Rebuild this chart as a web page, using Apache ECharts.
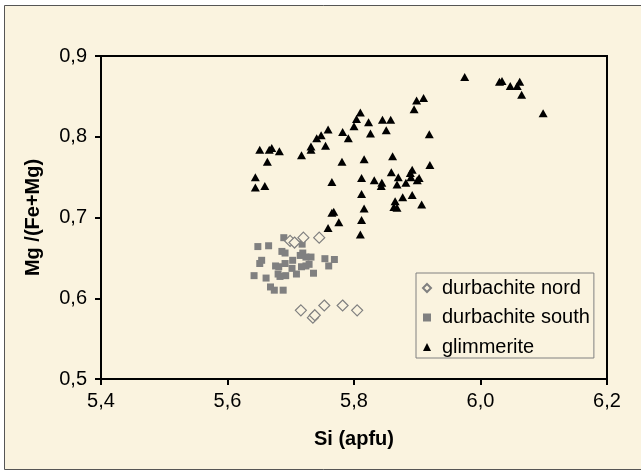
<!DOCTYPE html>
<html>
<head>
<meta charset="utf-8">
<script src="https://cdn.jsdelivr.net/npm/echarts@6/dist/echarts.min.js"></script>
<style>
  html, body { margin: 0; padding: 0; background: #fff; }
  #chart { width: 641px; height: 475px; }
</style>
</head>
<body>
<div id="chart"></div>
<script>
// Si (apfu) / Mg/(Fe+Mg) pairs
const nordSi = [5.699, 5.706, 5.720, 5.745, 5.716, 5.735, 5.738, 5.753, 5.782, 5.805];
const nordMg = [0.671, 0.669, 0.675, 0.675, 0.585, 0.576, 0.579, 0.591, 0.591, 0.585];

const southSi = [5.689, 5.648, 5.665, 5.718, 5.686, 5.691, 5.654, 5.651, 5.676, 5.681,
    5.691, 5.703, 5.702, 5.715, 5.719, 5.724, 5.732, 5.717, 5.724, 5.729,
    5.754, 5.769, 5.760, 5.736, 5.709, 5.642, 5.661, 5.680, 5.683, 5.692,
    5.668, 5.674, 5.688];
const southMg = [0.675, 0.664, 0.665, 0.667, 0.658, 0.656, 0.647, 0.643, 0.640, 0.639,
    0.643, 0.647, 0.637, 0.653, 0.656, 0.651, 0.651, 0.639, 0.640, 0.642,
    0.649, 0.648, 0.640, 0.631, 0.630, 0.628, 0.625, 0.630, 0.627, 0.628,
    0.614, 0.610, 0.610];

const glimSi = [5.651, 5.666, 5.670, 5.682, 5.663, 5.644, 5.644, 5.659, 5.717, 5.732,
    5.732, 5.741, 5.748, 5.755, 5.759, 5.781, 5.782, 5.791, 5.765, 5.765,
    5.768, 5.776, 5.759, 5.800, 5.804, 5.810, 5.823, 5.826, 5.816, 5.812,
    5.812, 5.816, 5.812, 5.810, 5.845, 5.858, 5.851, 5.832, 5.844, 5.843,
    5.861, 5.859, 5.870, 5.868, 5.882, 5.889, 5.892, 5.890, 5.903, 5.900,
    5.865, 5.863, 5.868, 5.877, 5.892, 5.907, 5.920, 5.919, 5.899, 5.910,
    5.895, 5.975, 6.030, 6.034, 6.047, 6.058, 6.062, 6.065, 6.099];
const glimMg = [0.784, 0.784, 0.786, 0.782, 0.769, 0.750, 0.737, 0.739, 0.777, 0.788,
    0.784, 0.798, 0.802, 0.789, 0.809, 0.769, 0.806, 0.798, 0.744, 0.706,
    0.707, 0.694, 0.687, 0.813, 0.822, 0.830, 0.818, 0.804, 0.772, 0.749,
    0.729, 0.711, 0.697, 0.679, 0.821, 0.821, 0.808, 0.746, 0.743, 0.739,
    0.776, 0.756, 0.750, 0.741, 0.743, 0.755, 0.759, 0.750, 0.749, 0.746,
    0.720, 0.713, 0.712, 0.725, 0.728, 0.716, 0.765, 0.803, 0.845, 0.848,
    0.834, 0.874, 0.868, 0.869, 0.863, 0.863, 0.868, 0.852, 0.829];

const xTicks = { min: 5.4, max: 6.2, step: 0.2 };
const yTicks = { min: 0.5, max: 0.9, step: 0.1 };

const cream = '#faf3df';
const font = '"Liberation Sans", Arial, sans-serif';

function pairs(xs, ys) {
    return xs.map((x, i) => [x, ys[i]]);
}

const commaFmt = v => v.toFixed(1).replace('.', ',');

const chart = echarts.init(document.getElementById('chart'));

chart.setOption({
    animation: false,
    backgroundColor: '#fff',
    textStyle: { fontFamily: font },
    graphic: [{
        type: 'rect',
        z: -10,
        shape: { x: 4.5, y: 5.5, width: 700, height: 464 },
        style: { fill: cream, stroke: '#555', lineWidth: 1 }
    }],
    grid: {
        left: 101, top: 56, right: 34, bottom: 96,
        show: true,
        borderColor: '#000',
        borderWidth: 2,
        backgroundColor: 'transparent'
    },
    legend: {
        orient: 'vertical',
        left: 416,
        top: 273,
        padding: [5, 4, 1, 6],
        itemWidth: 8,
        itemHeight: 8,
        itemGap: 9.5,
        borderColor: '#808080',
        borderWidth: 1,
        backgroundColor: cream,
        textStyle: { fontSize: 20, color: '#000', fontFamily: font, padding: [0, 0, 0, 6] },
        data: [
            { name: 'durbachite nord', icon: 'diamond' },
            { name: 'durbachite south', icon: 'rect' },
            { name: 'glimmerite', icon: 'triangle' }
        ]
    },
    xAxis: {
        type: 'value',
        min: xTicks.min, max: xTicks.max, interval: xTicks.step,
        name: 'Si (apfu)',
        nameLocation: 'middle',
        nameGap: 50,
        nameTextStyle: { fontSize: 20, fontWeight: 'bold', color: '#000' },
        axisLine: { onZero: false, lineStyle: { color: '#000', width: 2 } },
        axisTick: { show: true, length: 6, lineStyle: { color: '#000', width: 2 } },
        axisLabel: { fontSize: 20, color: '#000', margin: 12, formatter: commaFmt },
        splitLine: { show: false }
    },
    yAxis: {
        type: 'value',
        min: yTicks.min, max: yTicks.max, interval: yTicks.step,
        name: 'Mg /(Fe+Mg)',
        nameLocation: 'middle',
        nameGap: 58,
        nameTextStyle: { fontSize: 20, fontWeight: 'bold', color: '#000' },
        axisLine: { onZero: false, lineStyle: { color: '#000', width: 2 } },
        axisTick: { show: true, length: 6, lineStyle: { color: '#000', width: 2 } },
        axisLabel: { fontSize: 20, color: '#000', margin: 14, formatter: commaFmt },
        splitLine: { show: false }
    },
    series: [
        {
            name: 'durbachite south',
            type: 'scatter',
            symbol: 'rect',
            symbolSize: 7,
            itemStyle: { color: '#808080', opacity: 1 },
            data: pairs(southSi, southMg)
        },
        {
            name: 'durbachite nord',
            type: 'scatter',
            symbol: 'diamond',
            symbolSize: [11, 11],
            itemStyle: { color: cream, borderColor: '#808080', borderWidth: 1.2, opacity: 1 },
            data: pairs(nordSi, nordMg)
        },
        {
            name: 'glimmerite',
            type: 'scatter',
            symbol: 'triangle',
            symbolSize: [9, 8],
            itemStyle: { color: '#000', opacity: 1 },
            data: pairs(glimSi, glimMg)
        }
    ]
});
</script>
</body>
</html>
